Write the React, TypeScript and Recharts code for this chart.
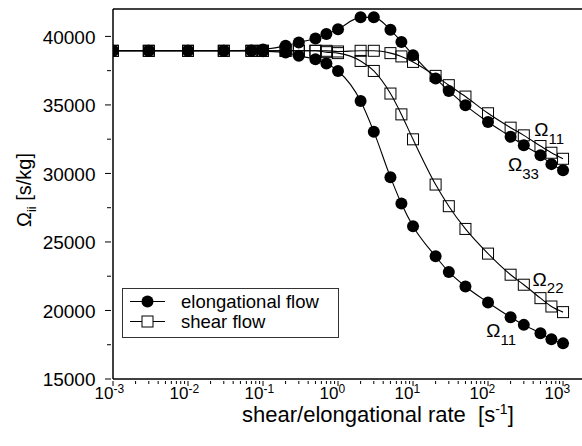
import { LineChart, Line, XAxis, YAxis, ReferenceLine, ReferenceDot } from "recharts";

const FONT = "'Liberation Sans', Arial, sans-serif";

// shear / elongational rate [1/s]
const RATE = [0.001, 0.003, 0.01, 0.03, 0.07, 0.1, 0.2, 0.3, 0.5, 0.7, 1, 2, 3, 5, 7, 10, 20, 30, 50, 100, 200, 300, 500, 700, 1000];
// elongational flow
const ELONG_11 = [38950, 38950, 38950, 38950, 38950, 38920, 38820, 38580, 38330, 38015, 37475, 35290, 33050, 29730, 27800, 26140, 23950, 22810, 21750, 20580, 19510, 18950, 18340, 17900, 17600];
const ELONG_33 = [38950, 38950, 38950, 38950, 38980, 39050, 39310, 39560, 39850, 40170, 40530, 41390, 41390, 40480, 39600, 38630, 36930, 36020, 34970, 33750, 32680, 32050, 31320, 30680, 30240];
// shear flow
const SHEAR_11 = [38950, 38950, 38950, 38950, 38950, 38950, 38950, 38950, 38950, 38950, 38900, 38950, 38950, 38780, 38540, 38140, 37120, 36440, 35610, 34390, 33340, 32780, 32000, 31510, 31070];
const SHEAR_22 = [38950, 38950, 38950, 38950, 38950, 38950, 38950, 38950, 38950, 38850, 38780, 38210, 37480, 35830, 34310, 32490, 29190, 27610, 25950, 24150, 22610, 21880, 20900, 20290, 19880];

const X_MAJOR = [0.001, 0.01, 0.1, 1, 10, 100, 1000];
const X_MINOR_STEPS = [2, 3, 4, 5, 6, 7, 8, 9];
const X_TICKS = [
  ...X_MAJOR,
  ...X_MAJOR.slice(0, -1).flatMap((d) => X_MINOR_STEPS.map((m) => +(d * m).toPrecision(3))),
].sort((a, b) => a - b);
const Y_TICKS = [15000, 17500, 20000, 22500, 25000, 27500, 30000, 32500, 35000, 37500, 40000];

// curve labels (placed in data coordinates)
const CURVE_LABELS = [
  { x: 414, y: 32700, sub: "11" },
  { x: 185, y: 30170, sub: "33" },
  { x: 393, y: 21800, sub: "22" },
  { x: 95, y: 18050, sub: "11" },
];

const DATA = RATE.map((rate, i) => ({
  rate,
  e11: ELONG_11[i],
  e33: ELONG_33[i],
  s11: SHEAR_11[i],
  s22: SHEAR_22[i],
}));

function isMajor(v: number) {
  const lg = Math.log10(v);
  return Math.abs(lg - Math.round(lg)) < 1e-9;
}

function XTick({ x, y, payload }: any) {
  const v = payload.value;
  const major = isMajor(v);
  const e = Math.round(Math.log10(v));
  return (
    <g>
      <line x1={x} x2={x} y1={y} y2={y + (major ? 5 : 3)} stroke="#000" strokeWidth={1} />
      {major && (
        <text x={x - 18.5} y={y + 18} fontSize={17} fontFamily={FONT} fill="#000">
          10<tspan dy={-6.5} fontSize={12}>{e}</tspan>
        </text>
      )}
    </g>
  );
}

function YTick({ x, y, payload }: any) {
  const v = payload.value;
  const major = v % 5000 === 0;
  return (
    <g>
      <line x1={x - (major ? 6 : 4)} x2={x} y1={y} y2={y} stroke="#000" strokeWidth={1} />
      {major && (
        <text x={x - 15.5} y={y} dy="0.38em" textAnchor="end" fontSize={19} fontFamily={FONT} fill="#000">
          {v}
        </text>
      )}
    </g>
  );
}

function XTitle({ viewBox }: any) {
  const vx = viewBox ? viewBox.x : 113;
  const vy = viewBox ? viewBox.y : 379;
  return (
    <text x={vx + 129} y={vy + 43} fontSize={22} fontFamily={FONT} fill="#000">
      shear/elongational rate{"\u00a0\u00a0"}[s<tspan dy={-8} fontSize={14}>-1</tspan><tspan dy={8}>]</tspan>
    </text>
  );
}

function YTitle() {
  return (
    <text x={31} y={190} transform="rotate(-90 31 190)" textAnchor="middle" fontSize={20} fontFamily={FONT} fill="#000">
      Ω<tspan dy={5} fontSize={13}>ii</tspan><tspan dy={-5}>{"\u00a0"}[s/kg]</tspan>
    </text>
  );
}

function OmegaLabel({ cx, cy, sub }: any) {
  return (
    <text x={cx} y={cy} fontSize={19} fontFamily={FONT} fill="#000">
      Ω<tspan dy={7.5} fontSize={15}>{sub}</tspan>
    </text>
  );
}

function SquareDot({ cx, cy, index }: any) {
  return <rect key={`sq-${index}`} x={cx - 5.5} y={cy - 5.5} width={11} height={11} fill="none" stroke="#000" strokeWidth={1} />;
}

function Legend() {
  return (
    <svg width={218} height={51} style={{ position: "absolute", left: 122, top: 288 }}>
      <rect x={0.5} y={0.5} width={216} height={49} fill="#fff" stroke="#333" strokeWidth={1} />
      <line x1={8} x2={43} y1={13.5} y2={13.5} stroke="#000" />
      <circle cx={25.5} cy={13.5} r={6} fill="#000" />
      <text x={59} y={19.5} fontSize={18.5} fontFamily={FONT} fill="#000">elongational flow</text>
      <line x1={8} x2={43} y1={33.5} y2={33.5} stroke="#000" />
      <rect x={20} y={28} width={11} height={11} fill="#fff" stroke="#000" />
      <text x={59} y={39.5} fontSize={18.5} fontFamily={FONT} fill="#000">shear flow</text>
    </svg>
  );
}

export default function App() {
  return (
    <div style={{ position: "absolute", left: 0, top: 0, width: 582, height: 446, background: "#fff" }}>
      <LineChart width={582} height={446} data={DATA} margin={{ top: 9, right: 0, bottom: 0, left: 0 }}>
        <XAxis
          dataKey="rate" type="number" scale="log" domain={[0.001, 1790]} allowDataOverflow
          ticks={X_TICKS} interval={0} tick={<XTick />} tickLine={false} tickSize={0}
          axisLine={{ stroke: "#000", strokeWidth: 1.5 }} height={67} label={<XTitle />}
        />
        <YAxis
          type="number" domain={[15000, 42000]} allowDataOverflow
          ticks={Y_TICKS} interval={0} tick={<YTick />} tickLine={false} tickSize={0}
          axisLine={{ stroke: "#000", strokeWidth: 1.5 }} width={113} label={<YTitle />}
        />
        <ReferenceLine y={42000} stroke="#000" strokeWidth={1.5} />
        <Line dataKey="s11" type="monotone" stroke="#000" strokeWidth={1.1} dot={(p: any) => <SquareDot key={`a${p.index}`} {...p} />} activeDot={false} isAnimationActive={false} />
        <Line dataKey="s22" type="monotone" stroke="#000" strokeWidth={1.1} dot={(p: any) => <SquareDot key={`b${p.index}`} {...p} />} activeDot={false} isAnimationActive={false} />
        <Line dataKey="e11" type="monotone" stroke="#000" strokeWidth={1.1} dot={{ r: 6, fill: "#000", stroke: "none" }} activeDot={false} isAnimationActive={false} />
        <Line dataKey="e33" type="monotone" stroke="#000" strokeWidth={1.1} dot={{ r: 6, fill: "#000", stroke: "none" }} activeDot={false} isAnimationActive={false} />
        {CURVE_LABELS.map((l, i) => (
          <ReferenceDot key={i} x={l.x} y={l.y} r={0} shape={(p: any) => <OmegaLabel {...p} sub={l.sub} />} />
        ))}
      </LineChart>
      <Legend />
    </div>
  );
}
